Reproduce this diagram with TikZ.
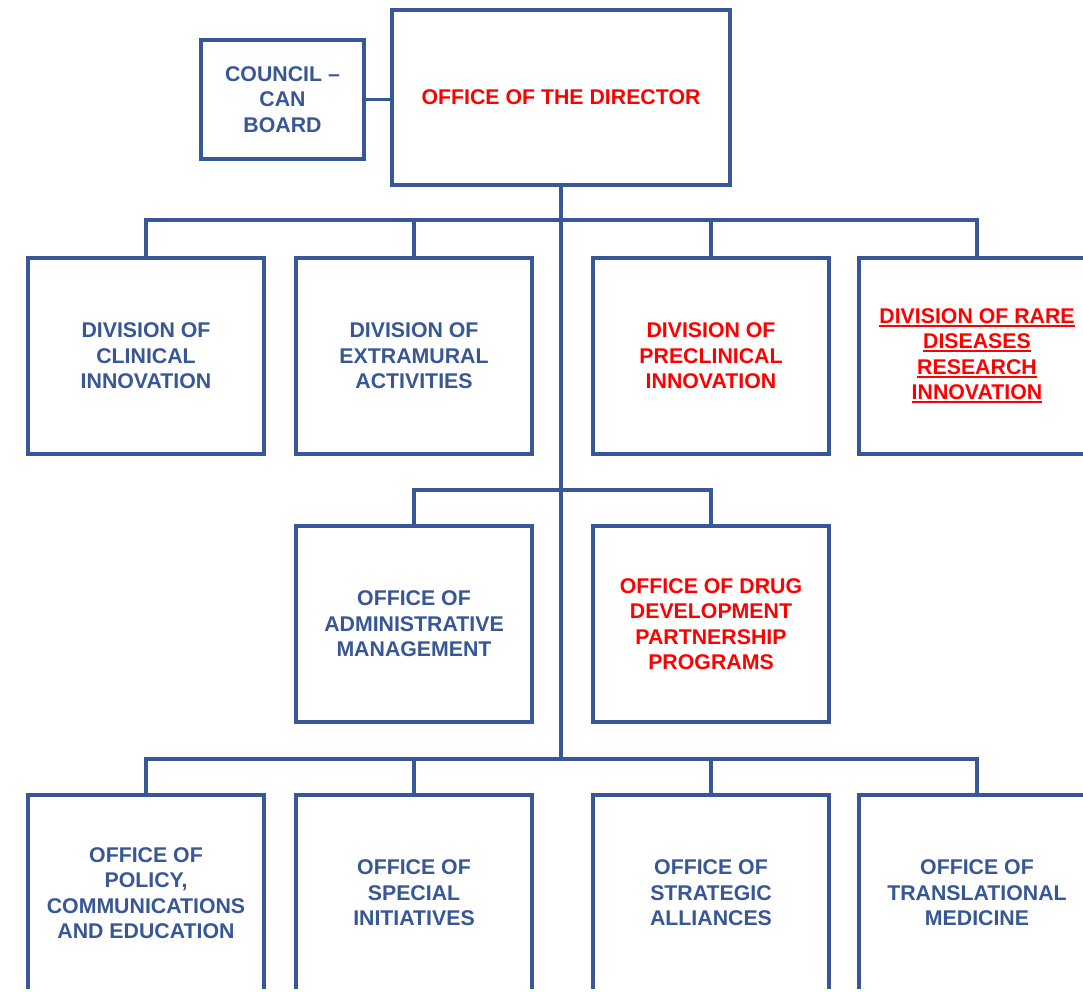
\documentclass[tikz,border=0pt]{standalone}
\usepackage{fontspec}
\setmainfont{Liberation Sans}
\usepackage{tikz}
\definecolor{orgblue}{RGB}{56,87,150}
\definecolor{orgred}{RGB}{255,0,0}
\newcommand{\orgfont}{\bfseries\fontsize{21.3}{25.5}\selectfont}
\newcommand{\rdline}[1]{\setbox0\hbox{#1}\rlap{\raisebox{-3.5pt}{\rule{\wd0}{2pt}}}\box0}
\newcommand{\orgunit}[4]{
	\node [unit, text=#3] (#1) at (#2) {#4};}

\begin{document}
\begin{tikzpicture}[x=1pt, y=-1pt, line width=3.5pt, draw=orgblue,
	unit/.style={draw=orgblue, line width=3.5pt, fill=white, rectangle, align=center,
		minimum width=236pt, minimum height=196pt, font=\orgfont}]
	\useasboundingbox (0,0) rectangle (1083,991);
	\clip (0,0) rectangle (1083,988);
	% top
	\node [unit, minimum width=338pt, minimum height=175pt, text=orgred] (dir) at (561,97.5) {OFFICE OF THE DIRECTOR};
	\node [unit, minimum width=163pt, minimum height=119pt, text=orgblue] (can) at (282.5,99.5) {COUNCIL --\\ CAN\\ BOARD};
	% divisions
	\orgunit{dcl}{146,356}{orgblue}{DIVISION OF\\ CLINICAL\\ INNOVATION}
	\orgunit{dea}{414,356}{orgblue}{DIVISION OF\\ EXTRAMURAL\\ ACTIVITIES}
	\orgunit{dpi}{711,356}{orgred}{DIVISION OF\\ PRECLINICAL\\ INNOVATION}
	\orgunit{drd}{977,356}{orgred}{\rdline{DIVISION OF RARE}\\ \rdline{DISEASES}\\ \rdline{RESEARCH}\\ \rdline{INNOVATION}}
	% offices
	\orgunit{oam}{414,624}{orgblue}{OFFICE OF\\ ADMINISTRATIVE\\ MANAGEMENT}
	\orgunit{odd}{711,624}{orgred}{OFFICE OF DRUG\\ DEVELOPMENT\\ PARTNERSHIP\\ PROGRAMS}
	\orgunit{opc}{146,893}{orgblue}{OFFICE OF\\ POLICY,\\ COMMUNICATIONS\\ AND EDUCATION}
	\orgunit{osi}{414,893}{orgblue}{OFFICE OF\\ SPECIAL\\ INITIATIVES}
	\orgunit{osa}{711,893}{orgblue}{OFFICE OF\\ STRATEGIC\\ ALLIANCES}
	\orgunit{otm}{977,893}{orgblue}{OFFICE OF\\ TRANSLATIONAL\\ MEDICINE}
	% lines
	\coordinate (b1) at (561,220);
	\coordinate (b2) at (561,490);
	\coordinate (b3) at (561,759);
	\draw [orgblue] (can.east) -- (can.east -| dir.west);
	\draw [orgblue] (dir.south) -- (b3);
	\foreach \n in {dcl,dea,dpi,drd}
		\draw [orgblue] (b1) -| (\n.north);
	\foreach \n in {oam,odd}
		\draw [orgblue] (b2) -| (\n.north);
	\foreach \n in {opc,osi,osa,otm}
		\draw [orgblue] (b3) -| (\n.north);
\end{tikzpicture}
\end{document}
